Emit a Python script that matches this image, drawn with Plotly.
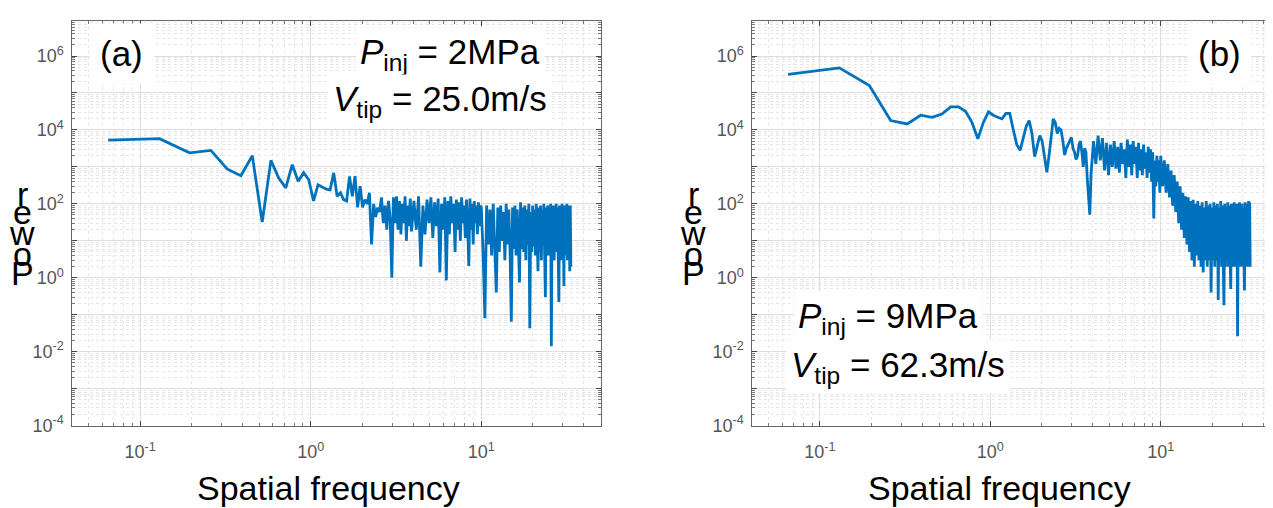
import plotly.graph_objects as go

# ---------------- data ----------------
freq = [0.065, 0.13, 0.195, 0.26, 0.325, 0.39, 0.455, 0.52, 0.585, 0.65,
        0.715, 0.78, 0.845, 0.91, 0.975, 1.04, 1.105, 1.17, 1.235, 1.3,
        1.365, 1.43, 1.495, 1.56, 1.625, 1.69, 1.755, 1.82, 1.885, 1.95,
        2.015, 2.08, 2.145, 2.21, 2.275, 2.34, 2.405, 2.47, 2.535, 2.6,
        2.665, 2.73, 2.795, 2.86, 2.925, 2.99, 3.055, 3.12, 3.185, 3.25,
        3.315, 3.38, 3.445, 3.51, 3.575, 3.64, 3.705, 3.77, 3.835, 3.9,
        4.03, 4.16, 4.29, 4.42, 4.55, 4.68, 4.81, 4.94, 5.07, 5.2,
        5.33, 5.46, 5.59, 5.72, 5.85, 5.98, 6.11, 6.24, 6.37, 6.5,
        6.63, 6.76, 6.89, 7.02, 7.15, 7.28, 7.41, 7.54, 7.67, 7.8,
        7.93, 8.06, 8.19, 8.32, 8.45, 8.58, 8.71, 8.84, 8.97, 9.1,
        9.23, 9.36, 9.49, 9.62, 9.75, 9.88,
        10.0, 10.25, 10.5, 10.75, 11.0, 11.25, 11.5, 11.75, 12.0, 12.25,
        12.5, 12.75, 13.0, 13.25, 13.5, 13.75, 14.0, 14.25, 14.5, 14.75,
        15.0, 15.25, 15.5, 15.75, 16.0, 16.25, 16.5, 16.75, 17.0, 17.25,
        17.5, 17.75, 18.0, 18.25, 18.5, 18.75, 19.0, 19.25, 19.5, 19.75,
        20.0, 20.25, 20.5, 20.75, 21.0, 21.25, 21.5, 21.75, 22.0, 22.25,
        22.5, 22.75, 23.0, 23.25, 23.5, 23.75, 24.0, 24.25, 24.5, 24.75,
        25.0, 25.25, 25.5, 25.75, 26.0, 26.25, 26.5, 26.75, 27.0, 27.25,
        27.5, 27.75, 28.0, 28.25, 28.5, 28.75, 29.0, 29.25, 29.5, 29.75,
        30.0, 30.25, 30.5, 30.75, 31.0, 31.25, 31.5, 31.75, 32.0, 32.25,
        32.5, 32.75, 33.0, 33.25, 33.5]

power_a = [5.3e3, 5.8e3, 2.4e3, 2.8e3, 8.7e2, 5.8e2, 2.0e3, 3.2e1, 1.5e3, 5.0e2,
           2.7e2, 1.15e3, 4.1e2, 7.0e2, 4.5e2, 1.2e2, 3.3e2, 2.8e2, 2.5e2, 2.4e2,
           6.9e2, 1.6e2, 2.0e2, 1.3e2, 1.2e2, 5.5e2, 1.6e2, 5.6e2, 8.0e1, 3.0e2,
           8.0e1, 1.3e2, 1.0e2, 2.0e2, 8.0e0, 1.0e2, 4.4e1, 8.0e1, 6.0e1, 1.5e2,
           3.0e1, 9.0e1, 2.0e1, 1.2e2, 4.0e1, 1.0e0, 1.5e2, 3.0e1, 1.6e2, 2.0e1,
           1.2e2, 1.5e1, 1.0e2, 3.0e1, 1.6e2, 1.0e1, 9.0e1, 2.5e1, 1.4e2, 1.8e1,
           1.2e2, 2.0e1, 1.6e2, 2.0e0, 9.0e1, 1.5e1, 1.3e2, 3.0e1, 1.5e2, 1.2e1,
           1.1e2, 2.5e1, 1.4e2, 1.4e0, 1.0e2, 2.0e1, 1.5e2, 0.85, 1.2e2, 1.5e1,
           1.6e2, 3.0e1, 1.0e2, 5.0e0, 1.3e2, 2.0e1, 1.1e2, 1.0e1, 1.5e2, 3.0e1,
           9.0e1, 1.2e1, 1.3e2, 2.5e1, 2.1e0, 1.4e2, 2.0e1, 1.0e2, 8.0e0, 1.2e2,
           3.0e1, 9.0e1, 1.5e1, 1.1e2, 2.5e1, 9.0e1,
           8e1, 5, 0.08, 9e1, 8, 7e1, 4, 1e2, 6, 0.4,
           8e1, 5, 9e1, 10, 6e1, 3, 1e2, 8, 7e1, 5,
           0.065, 8e1, 6, 9e1, 4, 7e1, 9, 0.75, 1.1e2, 6,
           8e1, 5, 9e1, 3, 7e1, 8, 1e2, 0.043, 6e1, 5,
           9e1, 7, 7e1, 4, 1e2, 6, 1.5, 8e1, 5, 9e1,
           3, 7e1, 8, 1e2, 5, 0.3, 8e1, 6, 9e1, 4,
           7e1, 7, 1e2, 0.014, 8e1, 5, 9e1, 3, 6e1, 8,
           1e2, 5, 8e1, 4, 0.22, 9e1, 6, 7e1, 3, 1e2,
           5, 8e1, 0.6, 9e1, 6, 7e1, 4, 1e2, 3, 8e1,
           6, 9e1, 1.5, 9e1, 2]

power_b = [3.2e5, 4.8e5, 1.6e5, 1.8e4, 1.45e4, 2.5e4, 2.2e4, 2.7e4, 4.2e4, 4.2e4,
           3.2e4, 1.6e4, 5.8e3, 1.6e4, 3.1e4, 2.5e4, 2.2e4, 2.0e4, 2.8e4, 2.8e4,
           1.0e4, 4.0e3, 2.8e3, 6.3e3, 1.26e4, 1.8e4, 8.0e3, 1.9e3, 4.0e3, 7.1e3,
           5.0e3, 2.0e3, 7.1e2, 2.0e3, 8.0e3, 2.0e4, 1.6e4, 8.0e3, 1.1e4, 1.0e4,
           5.0e3, 2.1e3, 3.2e3, 4.0e3, 5.0e3, 6.3e3, 3.2e3, 2.5e3, 1.6e3, 2.0e3,
           4.0e3, 5.0e3, 2.5e3, 1.0e3, 3.2e3, 2.5e3, 5.0e2, 1.0e2, 5.1e1, 6.3e2,
           5.0e3, 1.2e3, 7.0e3, 1.5e3, 6.0e3, 8.0e2, 4.5e3, 6.0e2, 4.0e3, 1.0e3,
           5.0e3, 9.0e2, 3.5e3, 7.0e2, 4.5e3, 1.2e3, 3.0e3, 5.0e2, 5.5e3, 1.0e3,
           4.0e3, 6.0e2, 5.0e3, 1.2e3, 3.5e3, 5.0e2, 4.5e3, 8.0e2, 3.0e3, 6.0e2,
           4.0e3, 9.0e2, 2.5e3, 5.0e2, 3.5e3, 7.0e2, 3.0e3, 4.0e2, 2.5e3, 4.0e1,
           1.5e3, 3.0e2, 2.0e3, 4.0e2, 1.5e3, 2.0e2,
           2.0e3, 3.0e2, 1.5e3, 2.0e2, 1.2e3, 1.5e2, 8.0e2, 9.0e1, 6.0e2, 6.0e1,
           4.0e2, 3.0e1, 3.0e2, 2.0e1, 2.0e2, 1.2e1, 1.6e2, 8, 1.5e2, 5,
           1.2e2, 3, 1.3e2, 2, 1.0e2, 4, 1.2e2, 3, 9.0e1, 2,
           1.1e2, 1.4, 8.0e1, 3, 1.2e2, 2, 9.0e1, 3, 1.0e2, 0.4,
           8.0e1, 3, 1.1e2, 2, 9.0e1, 3, 1.0e2, 0.25, 8.0e1, 4,
           1.2e2, 2, 9.0e1, 3, 0.18, 1.0e2, 2, 8.0e1, 3, 1.1e2,
           2, 9.0e1, 4, 0.5, 1.0e2, 3, 8.0e1, 2, 1.1e2, 3,
           9.0e1, 2, 1.0e2, 0.026, 8.0e1, 3, 1.1e2, 2, 9.0e1, 4,
           1.0e2, 2, 8.0e1, 3, 0.45, 1.1e2, 2, 9.0e1, 3, 1.0e2,
           2, 1.2e2, 3, 1.1e2, 2]

x_tickvals = [0.1, 1, 10]
x_ticktext = ["10<sup>-1</sup>", "10<sup>0</sup>", "10<sup>1</sup>"]
y_tickvals = [1e-4, 1e-3, 1e-2, 1e-1, 1, 10, 100, 1e3, 1e4, 1e5, 1e6]
y_ticktext = ["10<sup>-4</sup>", "", "10<sup>-2</sup>", "", "10<sup>0</sup>", "",
              "10<sup>2</sup>", "", "10<sup>4</sup>", "", "10<sup>6</sup>"]

assert len(freq) == len(power_a) == len(power_b), (len(freq), len(power_a), len(power_b))

W, H = 1273, 508
FONT = "Arial, Liberation Sans, sans-serif"
BLUE = "#0072BD"

fig = go.Figure()
fig.add_trace(go.Scatter(x=freq, y=power_a, mode="lines", xaxis="x", yaxis="y",
                         line=dict(color=BLUE, width=2.8), showlegend=False))
fig.add_trace(go.Scatter(x=freq, y=power_b, mode="lines", xaxis="x2", yaxis="y2",
                         line=dict(color=BLUE, width=2.8), showlegend=False))

def xax(domain, anchor):
    return dict(type="log", domain=domain, anchor=anchor, range=[-1.397, 1.70],
                tickmode="array", tickvals=x_tickvals, ticktext=x_ticktext,
                ticks="inside", ticklen=5, tickcolor="#444",
                showline=True, linecolor="#666", linewidth=1, mirror="allticks",
                showgrid=True, gridcolor="#dedede", gridwidth=1,
                ticklabelstandoff=10,
                tickfont=dict(family=FONT, size=18, color="#555"),
                minor=dict(dtick="D1", ticks="inside", ticklen=3, tickcolor="#777",
                           showgrid=True, gridcolor="#e6e6e6", griddash="dot"),
                zeroline=False)

def yax(domain, anchor):
    return dict(type="log", domain=domain, anchor=anchor, range=[-4, 6.955],
                tickmode="array", tickvals=y_tickvals, ticktext=y_ticktext,
                ticks="inside", ticklen=5, tickcolor="#444",
                showline=True, linecolor="#666", linewidth=1, mirror="allticks",
                showgrid=True, gridcolor="#dedede", gridwidth=1,
                ticklabelstandoff=4,
                tickfont=dict(family=FONT, size=18, color="#555"),
                minor=dict(dtick="D1", ticks="inside", ticklen=3, tickcolor="#777",
                           showgrid=True, gridcolor="#e6e6e6", griddash="dot"),
                zeroline=False)

ydom = [(H - 426) / H, (H - 13) / H]
fig.update_layout(
    width=W, height=H, margin=dict(l=0, r=0, t=0, b=0),
    paper_bgcolor="white", plot_bgcolor="white",
    xaxis=xax([64.3 / W, 592.7 / W], "y"),
    yaxis=yax(ydom, "x"),
    xaxis2=xax([744.3 / W, 1272 / W], "y2"),
    yaxis2=yax(ydom, "x2"),
)

def px(x, y):
    return x / W, 1 - y / H

def add_text(text, x, y, size, bg=None, pad=0, xanchor="center"):
    ax_, ay_ = px(x, y)
    fig.add_annotation(text=text, x=ax_, y=ay_, xref="paper", yref="paper",
                       showarrow=False, xanchor=xanchor, yanchor="middle",
                       font=dict(family=FONT, size=size, color="black"),
                       bgcolor=bg, borderpad=pad)

# panel labels and conditions
add_text("(a)", 113, 46, 35, bg="white", pad=10)
add_text("<i>P</i><sub>inj</sub> = 2MPa", 442, 47, 35, bg="white", pad=4)
add_text("<i>V</i><sub>tip</sub> = 25.0m/s", 432, 95, 35, bg="white", pad=4)
add_text("(b)", 1211, 46, 35, bg="white", pad=10)
add_text("<i>P</i><sub>inj</sub> = 9MPa", 880, 316, 35, bg="white", pad=4)
add_text("<i>V</i><sub>tip</sub> = 62.3m/s", 890, 366, 35, bg="white", pad=4)

# x-axis titles
add_text("Spatial frequency", 320, 490, 34)
add_text("Spatial frequency", 991, 490, 34)

# stacked y-axis title letters ("Power", drawn bottom-to-top)
letters = ["P", "o", "w", "e", "r"]
letter_y = [270, 251, 230, 208, 190]
for lx in (14, 685):
    for ch, ly in zip(letters, letter_y):
        add_text(ch, lx, ly, 34)

fig.write_html("out.html")
